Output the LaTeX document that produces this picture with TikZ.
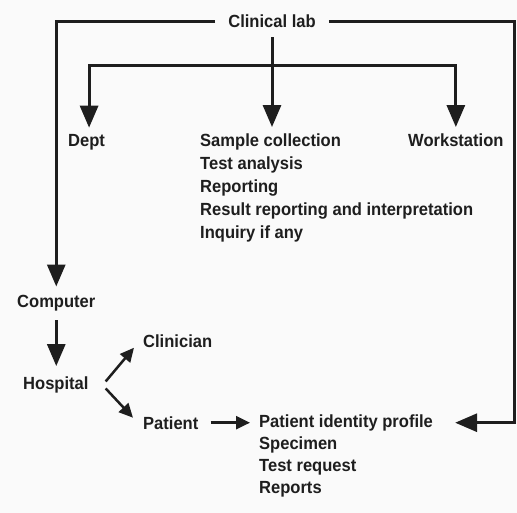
\documentclass[tikz,border=0pt]{standalone}
\usepackage{fontspec}
\setmainfont[FakeStretch=0.94]{Liberation Sans}
\usetikzlibrary{arrows.meta}
\definecolor{ink}{HTML}{1E1E1E}
\begin{document}
\begin{tikzpicture}[x=1pt,y=-1pt,
  lbl/.style={font=\bfseries\fontsize{17.6}{23}\selectfont, text=ink,
              inner sep=0pt, anchor=base west, align=left},
  wire/.style={draw=ink, line width=3pt, line join=miter},
  big/.style={wire, -{Triangle[width=18pt,length=22pt]}},
  small/.style={draw=ink, line width=2.5pt, -{Triangle[width=13pt,length=14pt]}}]
  \fill[white!98!black] (0,0) rectangle (517,513);
  \useasboundingbox (0,0) rectangle (517,513);

  % text blocks (multi-line blocks sit on the baseline of their last line)
  \node[lbl, anchor=base, inner xsep=13pt] (lab) at (272,28) {Clinical lab};
  \node[lbl] (dept)  at (68,147)  {Dept};
  \node[lbl] (tasks) at (200,239) {Sample collection\\Test analysis\\Reporting\\Result reporting and interpretation\\Inquiry if any};
  \node[lbl] (work)  at (408,147) {Workstation};
  \node[lbl] (comp)  at (17,308)  {Computer};
  \node[lbl] (hosp)  at (23,389)  {Hospital};
  \node[lbl] (clin)  at (143,347) {Clinician};
  \node[lbl] (pat)   at (143,429) {Patient};
  \node[lbl, font=\bfseries\fontsize{17.6}{22}\selectfont] (intake) at (259,493)
       {Patient identity profile\\Specimen\\Test request\\Reports};

  % helper points
  \coordinate (hub)    at (272,66);
  \coordinate (tTasks) at (tasks.north -| lab.south);
  \coordinate (rc)     at ([xshift=186pt]lab.east);
  \coordinate (r0)     at (pat.east -| intake.east);
  \coordinate (rTip)   at ([xshift=22pt]r0);
  \coordinate (pIn)    at (pat.east -| intake.west);
  \coordinate (hTop)   at (hosp.north -| comp.south);

  % clinical lab outflow
  \draw[wire] ([yshift=-9pt]lab.south) -- (hub);
  \draw[big] (hub) -- ([yshift=7pt]tTasks);
  \draw[big] (hub) -| ([xshift=2.5pt,yshift=7pt]dept.north);
  \draw[big] (hub) -| ([yshift=7pt]work.north);
  \draw[big] (lab.west) -| ([yshift=9pt]comp.north);
  \draw[big] (lab.east) -- (rc) |- (rTip);

  % hospital side
  \draw[big] ([yshift=-8.5pt]comp.south) -- ([yshift=10pt]hTop);
  \draw[small] ([xshift=17pt,yshift=3pt]hosp.east) -- ([xshift=-9pt,yshift=-7pt]clin.west);
  \draw[small] ([xshift=17pt,yshift=-4pt]hosp.east) -- ([xshift=-10pt,yshift=5pt]pat.west);
  \draw[small] ([xshift=12pt]pat.east) -- ([xshift=-9pt]pIn);
\end{tikzpicture}
\end{document}
